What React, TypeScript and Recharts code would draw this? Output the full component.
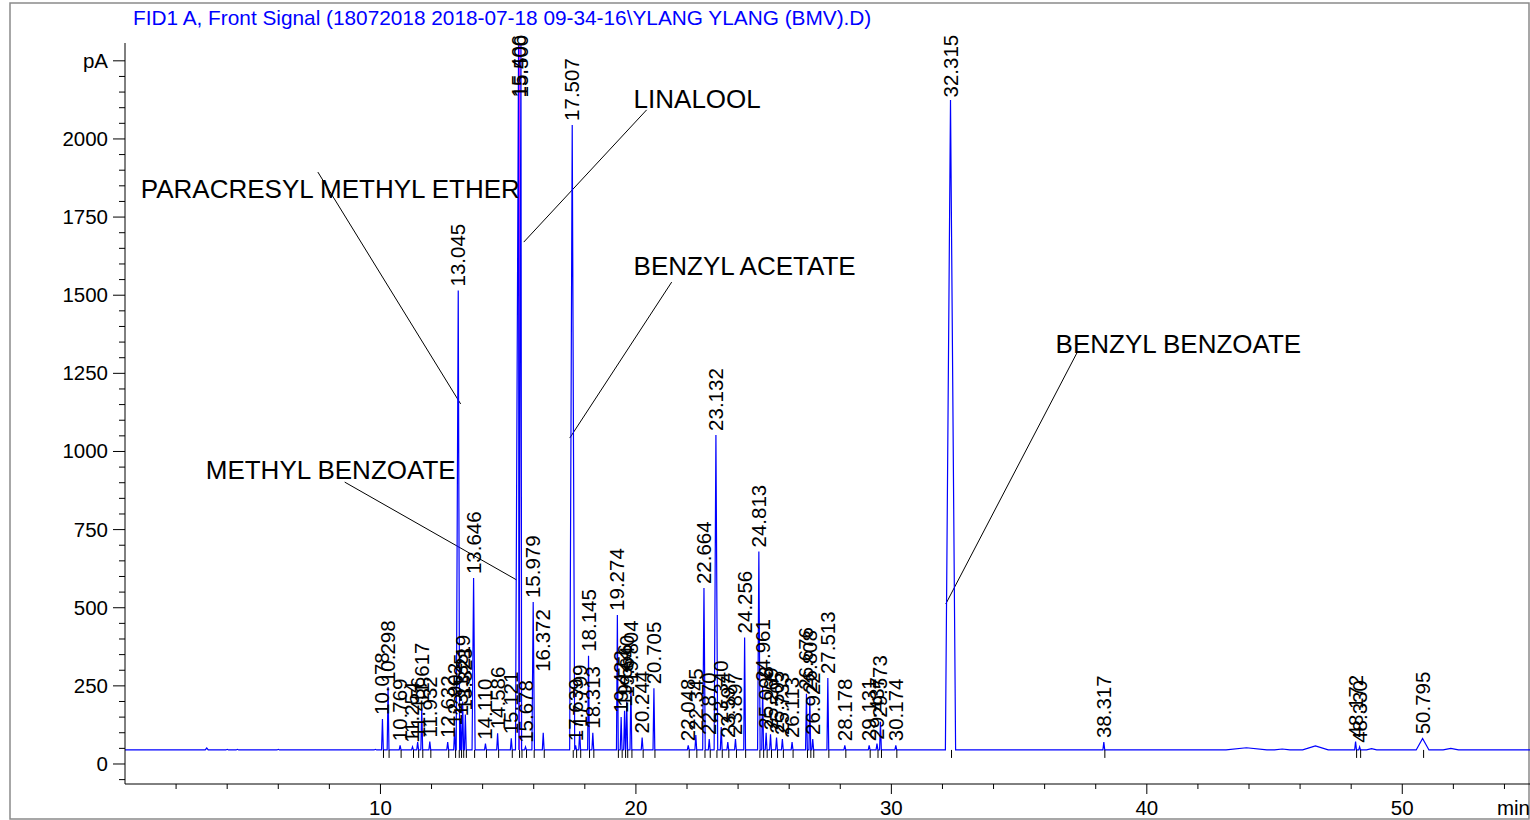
import React from "react";
import { ComposedChart, Line, Scatter, XAxis, YAxis, ReferenceLine } from "recharts";

const FONT = '"Liberation Sans", Arial, Helvetica, sans-serif';
const BASE = 45; // baseline of the signal, pA

// labelled peaks: retention time (min) and apex (pA)
const peakTimes = [
  10.078, 10.298, 10.769, 11.254, 11.456, 11.617, 11.932, 12.632, 12.902, 13.045,
  13.135, 13.219, 13.323, 13.646, 14.110, 14.586, 15.121, 15.406, 15.500, 15.678,
  15.979, 16.372, 17.507, 17.639, 17.799, 18.145, 18.313, 19.274, 19.422, 19.556,
  19.640, 19.804, 20.244, 20.705, 22.048, 22.345, 22.664, 22.870, 23.132, 23.340,
  23.597, 23.897, 24.256, 24.813, 24.961, 25.098, 25.269, 25.505, 25.733, 26.113,
  26.676, 26.808, 26.922, 27.513, 28.178, 29.131, 29.437, 29.573, 30.174, 32.315,
  38.317, 48.172, 48.330, 50.795,
];
const peakHeights = [
  144, 246, 60, 55, 70, 180, 72, 70, 110, 1515,
  140, 200, 158, 595, 65, 98, 82, 2300, 2300, 55,
  518, 100, 2045, 60, 105, 346, 100, 477, 150, 170,
  200, 246, 85, 242, 60, 93, 563, 80, 1053, 118,
  70, 80, 405, 680, 250, 100, 95, 85, 80, 70,
  225, 215, 80, 275, 60, 60, 65, 135, 60, 2125,
  70, 72, 55, 82,
];
// peaks wider than the default spike
const wideHalfWidth: Record<string, number> = {
  "13.045": 0.08, "13.646": 0.06, "15.406": 0.12, "15.500": 0.08, "15.979": 0.05,
  "17.507": 0.1, "22.664": 0.05, "23.132": 0.07, "24.813": 0.05, "32.315": 0.2,
  "50.795": 0.25,
};
// labels drawn higher than their apex
const labelLift: Record<string, number> = { "16.372": 282 };

// small unlabelled bumps on the baseline
const bumpTimes = [3.2, 4.0, 4.4, 6.0, 9.8, 43.9, 45.3, 46.6, 48.8, 51.9];
const bumpHeights = [51, 47, 47, 47, 47, 52, 48, 58, 49, 50];
const bumpHalfWidths = [0.06, 0.05, 0.05, 0.05, 0.05, 0.8, 0.3, 0.5, 0.2, 0.3];

const annotTexts = ["PARACRESYL METHYL ETHER", "LINALOOL", "BENZYL ACETATE", "METHYL BENZOATE", "BENZYL BENZOATE"];
const annotAt = [[0.62, 1811], [19.91, 2099], [19.91, 1565], [3.16, 912], [36.43, 1315]];
const leaderFrom = [[7.55, 1894], [20.42, 2093], [21.40, 1542], [8.60, 902], [37.28, 1318]];
const leaderTo = [[13.14, 1152], [15.61, 1670], [17.41, 1043], [15.33, 589], [32.13, 512]];

const yTickLabels = [0, 250, 500, 750, 1000, 1250, 1500, 1750, 2000];
const xTickLabels = [10, 20, 30, 40, 50];
const yTicks = Array.from({ length: 47 }, (_, i) => -50 + i * 50);
const xTicks = Array.from({ length: 27 }, (_, i) => 2 + i * 2);

const signal: { t: number; v: number }[] = [{ t: 0, v: BASE }, { t: 55, v: BASE }];
peakTimes.forEach((t, i) => {
  const w = wideHalfWidth[t.toFixed(3)] ?? 0.035;
  signal.push({ t: t - w, v: BASE }, { t, v: peakHeights[i] }, { t: t + w, v: BASE });
});
bumpTimes.forEach((t, i) => {
  const w = bumpHalfWidths[i];
  signal.push({ t: t - w, v: BASE }, { t, v: bumpHeights[i] }, { t: t + w, v: BASE });
});
signal.sort((a, b) => a.t - b.t);

const peakLabels = peakTimes.map((t, i) => {
  const key = t.toFixed(3);
  return { t, v: labelLift[key] ?? Math.min(peakHeights[i], 2120), label: key };
});
const peakMarks = peakTimes.map((t) => ({ t: t + 0.04, v: BASE }));
const annots = annotTexts.map((text, i) => ({ t: annotAt[i][0], v: annotAt[i][1], text }));

function YTick(props: any) {
  const { x, y, payload } = props;
  const v = payload.value;
  const major = v >= 0 && v % 250 === 0;
  const label = v === 2250 ? "pA" : yTickLabels.includes(v) ? String(v) : null;
  return (
    <g>
      <line x1={x - (major ? 12 : 6)} x2={x} y1={y} y2={y} stroke="#000" />
      {label && (
        <text x={x - 17} y={y + 7} textAnchor="end" fontSize={20.5} fontFamily={FONT} fill="#000">
          {label}
        </text>
      )}
    </g>
  );
}

function XTick(props: any) {
  const { x, y, payload } = props;
  const v = payload.value;
  const major = v % 10 === 0;
  const label = v === 54 ? "min" : xTickLabels.includes(v) ? String(v) : null;
  return (
    <g>
      <line x1={x} x2={x} y1={y} y2={y + (major ? 10 : 5)} stroke="#000" />
      {label && (
        <text x={v === 54 ? x + 9 : x} y={y + 31} textAnchor="middle" fontSize={20.5} fontFamily={FONT} fill="#000">
          {label}
        </text>
      )}
    </g>
  );
}

const PeakLabel = (p: any) => (
  <text
    transform={`translate(${p.cx + 7},${p.cy - 4}) rotate(-90)`}
    fontSize={20.5}
    fontFamily={FONT}
    fill="#000"
  >
    {p.payload.label}
  </text>
);

const PeakMark = (p: any) => <line x1={p.cx} x2={p.cx} y1={p.cy} y2={p.cy + 8} stroke="#000" />;

const AnnotText = (p: any) => (
  <text x={p.cx} y={p.cy} fontSize={26} fontFamily={FONT} fill="#000">
    {p.payload.text}
  </text>
);

export default function App() {
  return (
    <div style={{ position: "absolute", left: 0, top: 0, width: 1530, height: 820, background: "#fff", fontFamily: FONT }}>
      <svg width={1530} height={820} style={{ position: "absolute", left: 0, top: 0 }}>
        <rect x={10} y={3} width={1519} height={816} fill="none" stroke="#8a8a8a" strokeWidth={1.5} />
        <text x={133} y={25} fontSize={20.8} fontFamily={FONT} fill="#0000ff">
          FID1 A, Front Signal (18072018 2018-07-18 09-34-16\YLANG YLANG (BMV).D)
        </text>
      </svg>
      <div style={{ position: "absolute", left: 0, top: 0 }}>
        <ComposedChart width={1530} height={820} data={signal} margin={{ top: 43, right: 0, bottom: 0, left: 0 }}>
          <XAxis
            dataKey="t"
            type="number"
            domain={[0, 55]}
            ticks={xTicks}
            interval={0}
            tickSize={0}
            tickMargin={0}
            tick={<XTick />}
            tickLine={false}
            height={36}
            axisLine={{ stroke: "#000" }}
          />
          <YAxis
            type="number"
            domain={[-64, 2307]}
            ticks={yTicks}
            interval={0}
            tickSize={0}
            tickMargin={0}
            tick={<YTick />}
            tickLine={false}
            width={125}
            axisLine={{ stroke: "#000" }}
          />
          <ReferenceLine segment={[{ x: 15.45, y: BASE }, { x: 15.45, y: 2300 }]} stroke="#ff00ff" />
          {leaderFrom.map((f, i) => (
            <ReferenceLine
              key={i}
              segment={[{ x: f[0], y: f[1] }, { x: leaderTo[i][0], y: leaderTo[i][1] }]}
              stroke="#000"
              strokeWidth={1}
            />
          ))}
          <Line type="linear" dataKey="v" stroke="#0000ff" strokeWidth={1.2} dot={false} isAnimationActive={false} />
          <Scatter data={peakMarks} dataKey="v" shape={PeakMark} isAnimationActive={false} />
          <Scatter data={peakLabels} dataKey="v" shape={PeakLabel} isAnimationActive={false} />
          <Scatter data={annots} dataKey="v" shape={AnnotText} isAnimationActive={false} />
        </ComposedChart>
      </div>
    </div>
  );
}
